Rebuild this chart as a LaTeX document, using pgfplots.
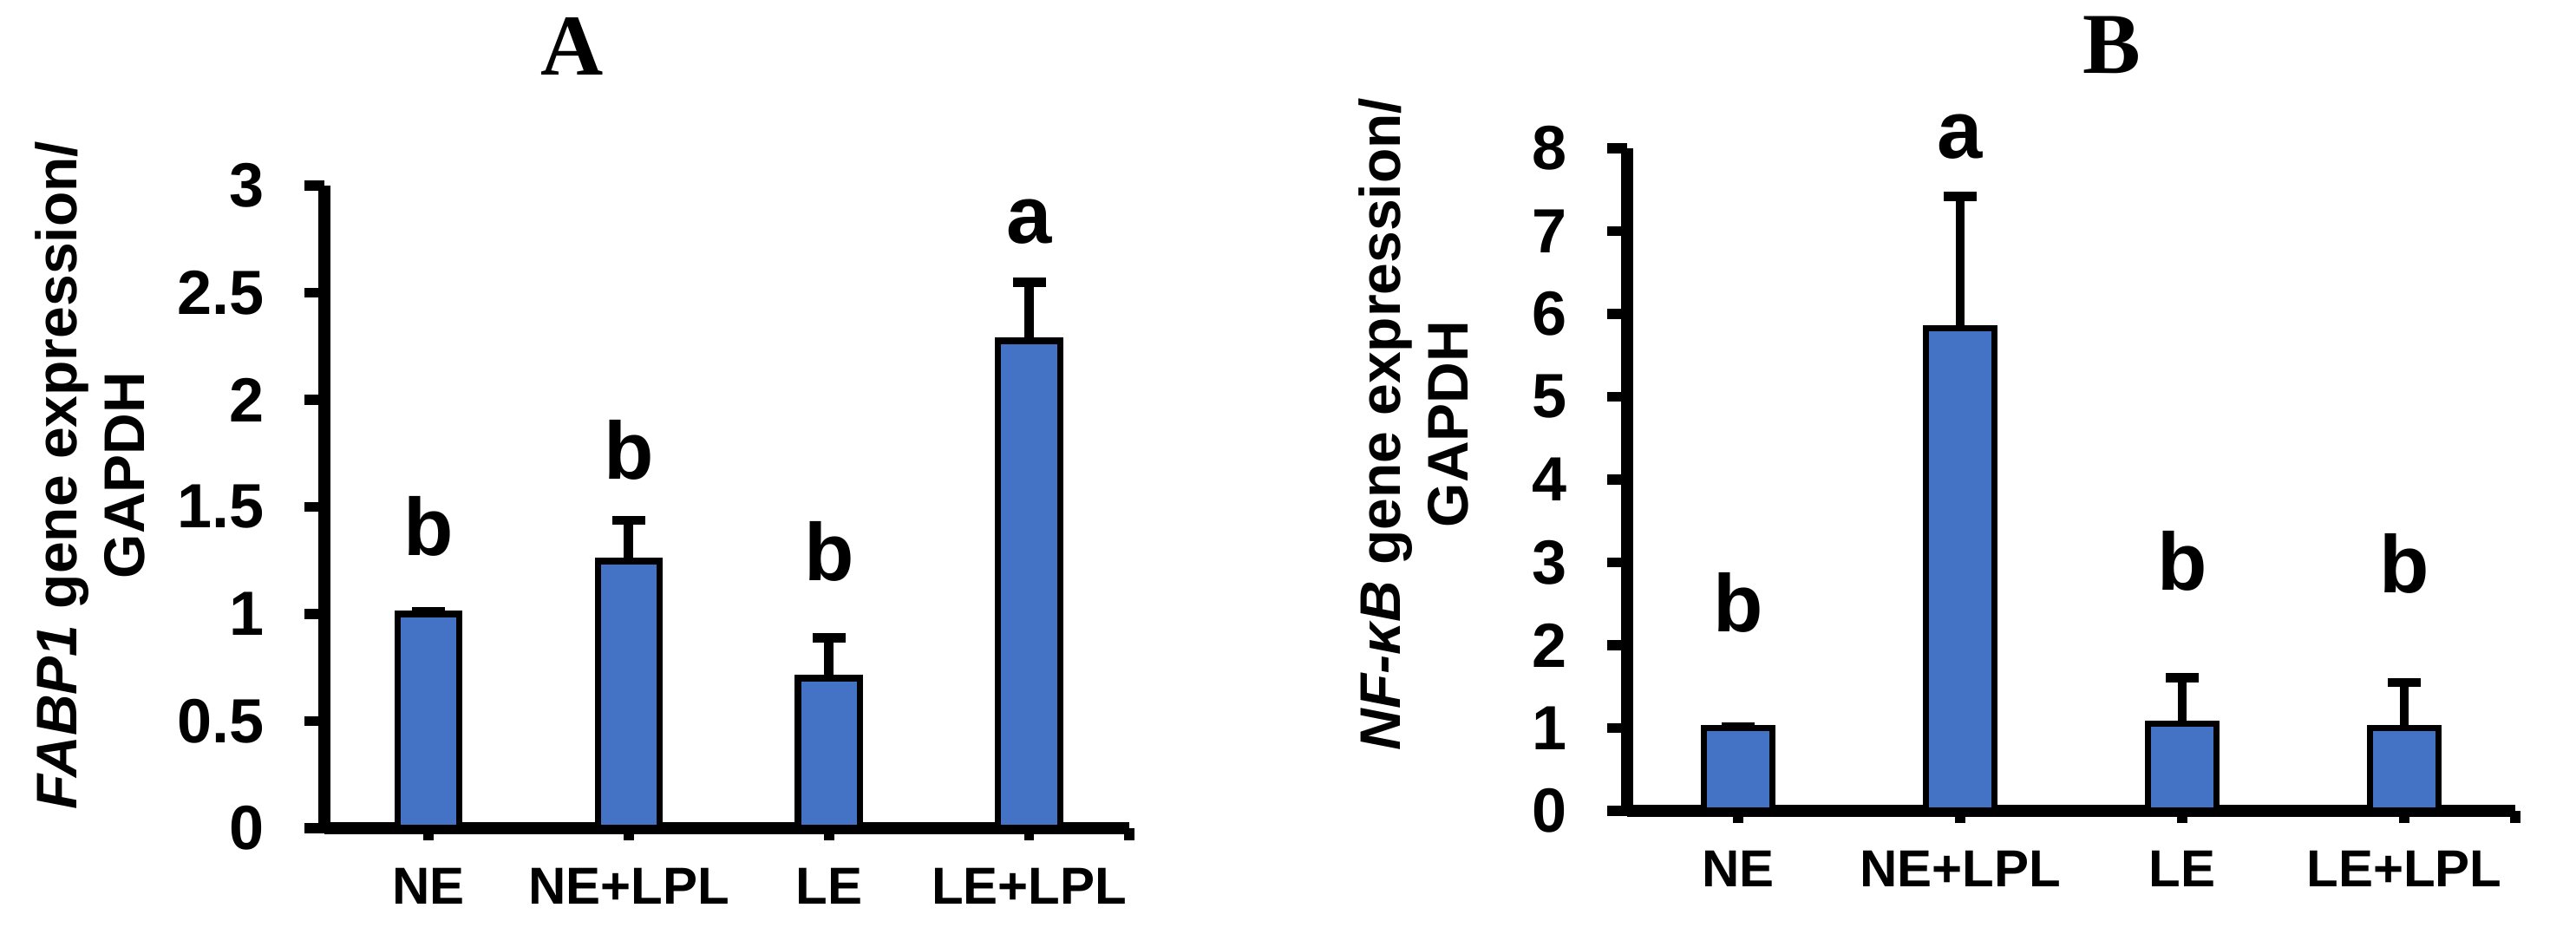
\documentclass[border=0pt]{standalone}
\usepackage{fontspec}
\setmainfont{Liberation Sans}
\newfontfamily\titlefont{Liberation Serif}
\usepackage{pgfplots}
\pgfplotsset{compat=1.18}
\definecolor{barblue}{HTML}{4472C4}
\pgfplotsset{
  myaxis/.style={
    scale only axis,
    anchor=south west,
    axis lines*=left,
    axis line style={line width=3.3pt, black},
    tick align=outside,
    major tick length=5.75pt,
    tick style={line width=2.9pt, black},
    xtick style={/pgfplots/major tick length=3.5pt},
    xtick={0,1,2,3},
    xticklabels={NE,NE+LPL,LE,LE+LPL},
    xticklabel style={font=\fontsize{15}{18}\selectfont\bfseries, anchor=base, inner sep=0pt, yshift=-16.25pt},
    yticklabel style={font=\fontsize{18}{21}\selectfont\bfseries, anchor=east, inner sep=0pt, xshift=-11.5pt},
    /pgf/number format/assume math mode=true,
    extra x tick labels={},
    ymin=0,
    clip=false,
  },
  mybars/.style={
    ybar, bar shift=0pt, bar width=0.31, fill=barblue, draw=black, line width=1.8pt,
    error bars/.cd, y dir=plus, y explicit,
    error mark=|,
    error bar style={line width=2.7pt, black},
    error mark options={line width=2.7pt, black, mark size=4.75pt},
  },
  myletters/.style={
    draw=none, mark=none, nodes near coords, point meta=explicit symbolic,
    every node near coord/.append style={anchor=base, inner sep=0pt, yshift=0pt,
      font=\fontsize{23.5}{26}\selectfont\bfseries, text=black},
  },
}
\begin{document}
\begin{tikzpicture}
\path[use as bounding box] (0,0) rectangle (742.5pt,269.25pt);
% Panel A
\begin{axis}[myaxis, at={(93.5pt,30.5pt)}, width=232pt, height=185.25pt,
  xmin=-0.52, xmax=3.5, ymax=3, ytick={0,0.5,1,1.5,2,2.5,3},
  extra x ticks={3.5}]
\addplot[mybars] coordinates {(0,1.0) +- (0,0.012) (1,1.247) +- (0,0.19) (2,0.70) +- (0,0.19) (3,2.275) +- (0,0.275)};
\addplot[myletters] coordinates {(0,1.275)[b] (1,1.63)[b] (2,1.154)[b] (3,2.73)[a]};
\end{axis}
% Panel B
\begin{axis}[myaxis, at={(469pt,35.5pt)}, width=256pt, height=191pt,
  xmin=-0.5, xmax=3.5, ymax=8, ytick={0,1,2,3,4,5,6,7,8},
  extra x ticks={3.5}]
\addplot[mybars] coordinates {(0,1.0) +- (0,0.015) (1,5.83) +- (0,1.59) (2,1.05) +- (0,0.56) (3,1.0) +- (0,0.55)};
\addplot[myletters] coordinates {(0,2.16)[b] (1,7.88)[a] (2,2.67)[b] (3,2.63)[b]};
\end{axis}
% titles
\node[anchor=base, inner sep=0pt, font=\titlefont\bfseries\fontsize{25}{30}\selectfont] at (165pt,247.5pt) {A};
\node[anchor=base, inner sep=0pt, font=\titlefont\bfseries\fontsize{25}{30}\selectfont] at (608.75pt,248pt) {B};
% y labels
\node[rotate=90, anchor=base, inner sep=0pt, font=\fontsize{16.5}{19.8}\selectfont\bfseries] at (22pt,132.25pt) {\textit{FABP1} gene expression/};
\node[rotate=90, anchor=base, inner sep=0pt, font=\fontsize{16.5}{19.8}\selectfont\bfseries] at (41.75pt,132.25pt) {GAPDH};
\node[rotate=90, anchor=base, inner sep=0pt, font=\fontsize{16.5}{19.8}\selectfont\bfseries] at (403.5pt,147pt) {\textit{NF-κB} gene expression/};
\node[rotate=90, anchor=base, inner sep=0pt, font=\fontsize{16.5}{19.8}\selectfont\bfseries] at (423pt,147pt) {GAPDH};
\end{tikzpicture}
\end{document}
